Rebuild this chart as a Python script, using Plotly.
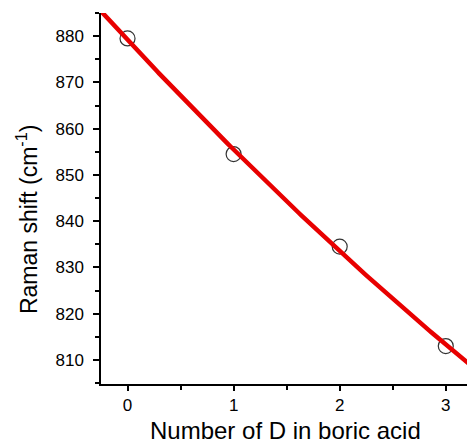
import numpy as np
import plotly.graph_objects as go

# Data
num_d = [0, 1, 2, 3]
raman_shift = [879.5, 854.5, 834.5, 813.0]

# Quadratic fit derived from the data
coef = np.polyfit(num_d, raman_shift, 2)
x_fit = np.linspace(-0.3, 3.3, 200)
y_fit = np.polyval(coef, x_fit)

FONT = "Liberation Sans, Arial, sans-serif"

fig = go.Figure()
fig.add_trace(go.Scatter(
    x=num_d, y=raman_shift, mode="markers",
    marker=dict(symbol="circle-open", size=15, color="#333333", line=dict(width=1.2, color="#333333")),
    showlegend=False,
))
fig.add_trace(go.Scatter(
    x=x_fit, y=y_fit, mode="lines",
    line=dict(color="#e80000", width=4.5),
    showlegend=False,
))

fig.update_layout(
    width=467, height=443,
    margin=dict(l=101, r=0, t=13, b=59),
    paper_bgcolor="white", plot_bgcolor="white",
    font=dict(family=FONT, color="black"),
    annotations=[
        dict(text="Number of D in boric acid", xref="paper", yref="paper",
             x=0.503, y=-0.124, showarrow=False, xanchor="center", yanchor="middle",
             font=dict(size=24, family=FONT, color="black")),
        dict(text="Raman shift (cm<sup>-1</sup>)", xref="paper", yref="paper",
             x=-0.202, y=0.442, showarrow=False, xanchor="center", yanchor="middle",
             textangle=-90, font=dict(size=23, family=FONT, color="black")),
    ],
)
fig.update_xaxes(
    range=[-0.25, 3.2], tickvals=[0, 1, 2, 3],
    showline=True, linecolor="black", linewidth=1.5, mirror=False,
    ticks="outside", ticklen=5, tickwidth=1.5, tickcolor="black",
    minor=dict(dtick=0.5, tick0=0, ticks="outside", ticklen=4, tickwidth=1.5, tickcolor="black"),
    showgrid=False, zeroline=False,
    tickfont=dict(size=17, family=FONT),
)
fig.update_yaxes(
    range=[804.8, 885], tickvals=[810, 820, 830, 840, 850, 860, 870, 880],
    showline=True, linecolor="black", linewidth=1.5, mirror=False,
    ticks="outside", ticklen=6, tickwidth=1.5, tickcolor="black",
    minor=dict(dtick=5, tick0=0, ticks="outside", ticklen=4, tickwidth=1.5, tickcolor="black"),
    showgrid=False, zeroline=False,
    tickfont=dict(size=17, family=FONT), ticklabelstandoff=6,
)

fig.write_html("out.html")
